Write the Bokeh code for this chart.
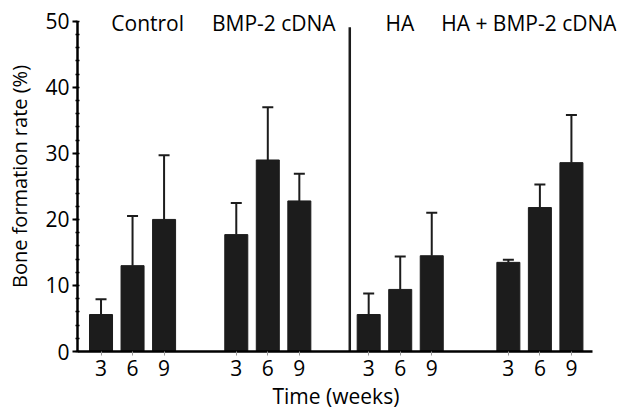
from bokeh.plotting import figure
from bokeh.models import (Range1d, FixedTicker, SingleIntervalTicker, CustomJSTickFormatter,
                          ColumnDataSource, Whisker, TeeHead, Title)
from bokeh.core.properties import value
from bokeh.embed import file_html
from bokeh.resources import INLINE

# ---- data ----
groups = ["Control", "BMP-2 cDNA", "HA", "HA + BMP-2 cDNA"]
times = ["3", "6", "9"]
control = [5.6, 13.0, 20.0]
control_err = [2.3, 7.5, 9.7]
bmp2 = [17.7, 29.0, 22.8]
bmp2_err = [4.8, 8.0, 4.1]
ha = [5.6, 9.4, 14.5]
ha_err = [3.2, 5.0, 6.5]
ha_bmp2 = [13.5, 21.8, 28.6]
ha_bmp2_err = [0.4, 3.5, 7.2]

# ---- layout constants (x in bar-slot units, 31.5 px per unit) ----
group_offsets = [0.0, 4.29, 8.49, 12.92]
label_x = [1.48, 5.48, 9.48, 13.57]
label_y = 49.7
separator_x = 7.89
separator_top = 49.1
x_left, x_axis_right, x_right = -0.746, 15.603, 16.35
FONT = "Open Sans"
FS = "21px"
BAR_COLOR = "#1c1c1c"

series = [control, bmp2, ha, ha_bmp2]
errors = [control_err, bmp2_err, ha_err, ha_bmp2_err]
xs, tops, uppers, tick_labels = [], [], [], []
for g, (vals, errs) in enumerate(zip(series, errors)):
    for k, (v, e) in enumerate(zip(vals, errs)):
        xs.append(group_offsets[g] + k)
        tops.append(v)
        uppers.append(v + e)
        tick_labels.append(times[k])

src = ColumnDataSource(dict(x=xs, top=tops, upper=uppers))

p = figure(width=618, height=411, output_backend="svg", toolbar_location=None,
           x_range=Range1d(x_left, x_right), y_range=Range1d(0, 53),
           min_border_left=77, min_border_right=2, min_border_top=1, min_border_bottom=60)
p.outline_line_color = None
p.xgrid.grid_line_color = None
p.ygrid.grid_line_color = None
p.background_fill_color = "white"
p.border_fill_color = "white"

p.vbar(x="x", top="top", bottom=0, width=0.73, source=src,
       fill_color=BAR_COLOR, line_color=BAR_COLOR)
w = Whisker(base="x", lower="top", upper="upper", source=src,
            line_color="#1c1c1c", line_width=2,
            upper_head=TeeHead(size=11, line_width=2, line_color="#1c1c1c"),
            lower_head=None)
p.add_layout(w)

p.segment(x0=[separator_x], y0=[0], x1=[separator_x], y1=[separator_top],
          line_color="#1c1c1c", line_width=2.5)

p.text(x=label_x, y=[label_y] * 4, text=groups, text_align="center", text_baseline="middle",
       text_font=value(FONT), text_font_size=FS, text_color="black")

# y axis
ya = p.yaxis[0]
ya.bounds = (0, 50)
ya.ticker = SingleIntervalTicker(interval=10, num_minor_ticks=5)
ya.axis_line_width = 2.5
ya.major_tick_out = 5
ya.major_tick_in = 0
ya.major_tick_line_width = 2
ya.minor_tick_out = 2
ya.minor_tick_in = 2
ya.minor_tick_line_width = 1.5
ya.major_label_standoff = 3
ya.major_label_text_font = FONT
ya.major_label_text_font_size = FS
ya.major_label_text_color = "black"
ya.axis_label = "Bone formation rate (%)"
ya.axis_label_text_font = FONT
ya.axis_label_text_font_size = "20px"
ya.axis_label_text_font_style = "normal"
ya.axis_label_text_color = "black"
ya.axis_label_standoff = 9

# x axis
xa = p.xaxis[0]
xa.bounds = (x_left, x_axis_right)
xa.ticker = FixedTicker(ticks=xs, minor_ticks=[])
xa.formatter = CustomJSTickFormatter(args=dict(labels=tick_labels), code="return labels[index];")
xa.axis_line_width = 2.5
xa.major_tick_out = 4
xa.major_tick_in = 0
xa.major_tick_line_color = "#999999"
xa.major_label_standoff = 4
xa.major_label_text_font = FONT
xa.major_label_text_font_size = FS
xa.major_label_text_color = "black"

xtitle = Title(text="Time (weeks)", align="left", offset=195, text_font=FONT,
               text_font_size=FS, text_font_style="normal", text_color="black",
               standoff=2)
p.add_layout(xtitle, "below")

open("out.html", "w").write(file_html(p, INLINE))
